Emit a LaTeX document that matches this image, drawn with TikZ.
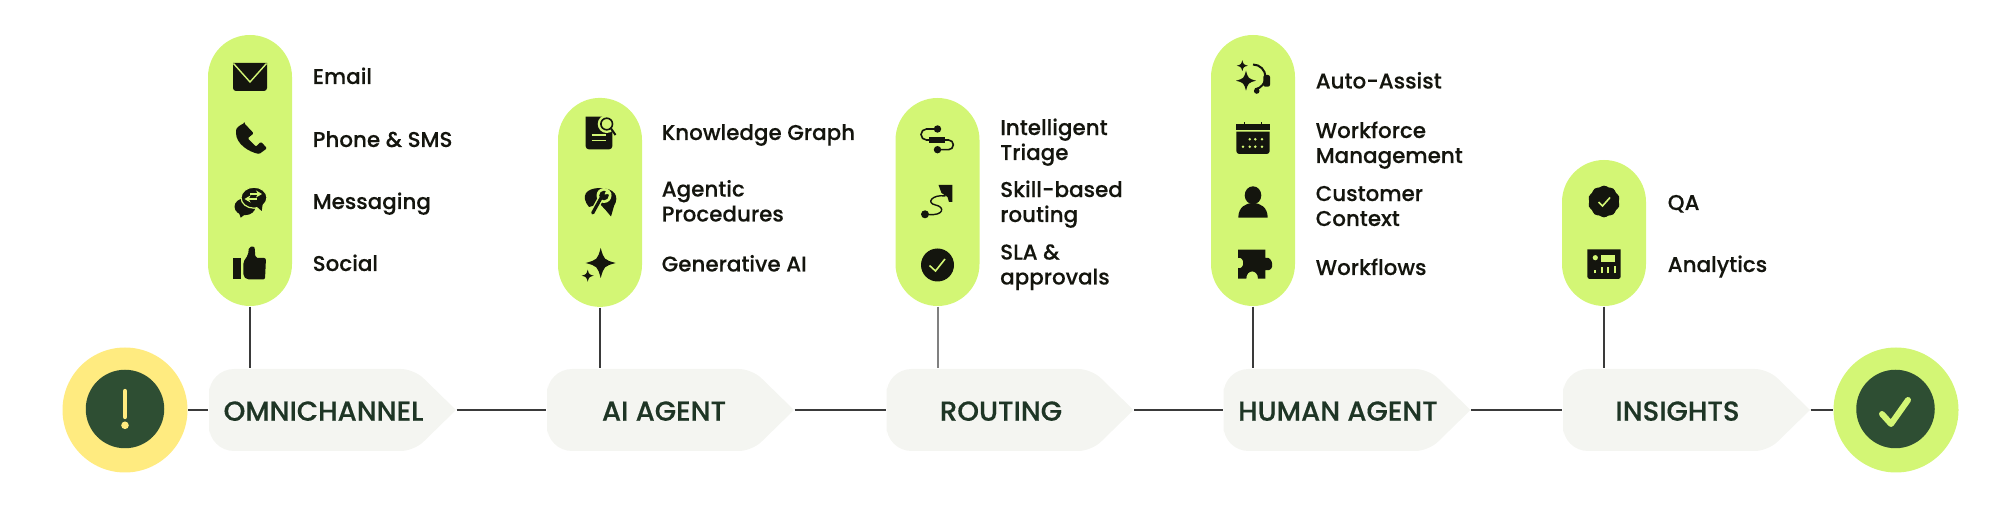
\documentclass[tikz,border=0pt]{standalone}
\usepackage{fontspec}
\setmainfont{Poppins}
\newfontfamily\itemfont{Poppins Medium}[FakeBold=.2]
\newfontfamily\stagefont{Poppins Medium}[FakeBold=.35]
\usepackage{xcolor}
\usetikzlibrary{positioning}
\usetikzlibrary{shapes.geometric}
\usetikzlibrary{arrows.meta}
\usetikzlibrary{calc}

\definecolor{pillgreen}{HTML}{D3F675}
\definecolor{sunyellow}{HTML}{FFEB80}
\definecolor{darkgreen}{HTML}{2E4E33}
\definecolor{stagegrey}{HTML}{F4F5F1}
\definecolor{stageink}{HTML}{1E3525}
\definecolor{iconink}{HTML}{14150E}
\definecolor{wireink}{HTML}{3A3A3A}

\tikzset{
  % small four pointed star, radius 1
  ic spark/.pic={
    \fill[iconink] (0,1) .. controls (.22,.22) .. (1,0) .. controls (.22,-.22) .. (0,-1)
      .. controls (-.22,-.22) .. (-1,0) .. controls (-.22,.22) .. (0,1) -- cycle;
  },
  ic mail/.pic={
    \fill[iconink, rounded corners=.03cm] (-.17,0) -- (-.17,-.14) -- (.17,-.14) -- (.17,0) [sharp corners] -- (.17,.14) -- (-.17,.14) -- cycle;
    \draw[pillgreen, line width=.014cm] (-.165,.135) -- (0,-.05) -- (.165,.135);
  },
  ic phone/.pic={
    \fill[iconink, rounded corners=.012cm] (-.067,.157) -- (.027,.057) -- (-.033,.007) -- (.05,-.077)
      -- (.10,-.027) -- (.16,-.093) -- (.083,-.15) .. controls (-.02,-.13) and (-.15,-.05) .. (-.15,.073)
      .. controls (-.15,.11) and (-.11,.14) .. (-.067,.157) -- cycle;
  },
  ic chat/.pic={
    \fill[iconink] (-.05,-.047) ellipse[x radius=.105, y radius=.085];
    \fill[iconink] (-.12,-.08) -- (-.093,-.157) -- (-.02,-.10) -- cycle;
    \fill[iconink, draw=pillgreen, line width=.012cm] (.04,.043) ellipse[x radius=.13, y radius=.105];
    \fill[iconink] (.06,-.04) -- (.117,-.09) -- (.13,0) -- cycle;
    \draw[pillgreen, line width=.012cm, -{Stealth[length=.06cm,width=.07cm]}] (0,.08) -- (.12,.08);
    \draw[pillgreen, line width=.012cm, -{Stealth[length=.06cm,width=.07cm]}] (.07,.03) -- (-.055,.03);
  },
  ic thumb/.pic={
    \fill[iconink] (-.167,.05) rectangle (-.093,-.16);
    \fill[iconink, rounded corners=.02cm] (-.067,.01) -- (-.02,.08) -- (-.01,.16) -- (.045,.167)
      -- (.055,.05) -- (.16,.05) -- (.15,-.165) -- (-.03,-.165) -- (-.067,-.13) -- cycle;
  },
  ic doc/.pic={
    \fill[iconink, rounded corners=.03cm] (-.143,0) -- (-.143,-.163) -- (.123,-.163) -- (.123,0) [sharp corners] -- (.123,.163) -- (-.143,.163) -- cycle;
    \fill[pillgreen] (.067,.09) circle[radius=.09];
    \fill[pillgreen] (.067,.09) rectangle (.16,.18);
    \draw[iconink, line width=.016cm] (.067,.09) circle[radius=.058];
    \draw[iconink, line width=.02cm] (.11,.045) -- (.155,-.02);
    \draw[pillgreen, line width=.016cm] (-.083,-.02) -- (.057,-.02);
    \draw[pillgreen, line width=.016cm] (-.083,-.075) -- (.057,-.075);
  },
  ic wrench/.pic={
    \fill[iconink] (-.11,-.05) .. controls (-.2,.06) and (-.14,.14) .. (0,.14)
      .. controls (.14,.14) and (.2,.06) .. (.14,-.04) -- (.11,-.145) -- (.06,-.085) -- (0,-.02) -- cycle;
    \draw[pillgreen, line width=.06cm, line cap=round] (-.073,-.11) -- (.015,.05);
    \fill[pillgreen] (.04,.065) circle[radius=.075];
    \draw[iconink, line width=.032cm, line cap=round] (-.073,-.11) -- (.01,.04);
    \fill[iconink] (.04,.065) circle[radius=.048];
    \fill[pillgreen] (.045,.075) -- (.07,.135) -- (.115,.085) -- cycle;
  },
  ic stars/.pic={
    \pic[scale=.15] at (.007,.02) {ic spark};
    \pic[scale=.06] at (-.123,-.107) {ic spark};
  },
  ic flow/.pic={
    \draw[iconink, line width=.016cm] (0,.11) -- (-.11,.11) arc[start angle=90, end angle=270, radius=.055] -- (-.06,0);
    \draw[iconink, line width=.016cm] (0,0) -- (.11,0) arc[start angle=90, end angle=-90, radius=.0485] -- (0,-.097);
    \fill[iconink] (0,.11) circle[radius=.037];
    \fill[iconink] (0,-.097) circle[radius=.037];
    \fill[iconink] (-.085,.033) rectangle (.075,-.033);
  },
  ic route/.pic={
    \fill[iconink] (-.125,-.123) circle[radius=.04];
    \draw[iconink, line width=.014cm] (-.09,-.125) .. controls (.06,-.14) and (.08,-.05) .. (-.02,-.03)
      .. controls (-.12,-.01) and (-.05,.08) .. (.08,.06);
    \fill[iconink] (.01,.17) -- (.148,.17) -- (.148,0) -- (.115,0) -- (.10,.05) -- (.04,.09) -- cycle;
  },
  ic tick/.pic={
    \fill[iconink] (0,0) circle[radius=.165];
    \draw[pillgreen, line width=.016cm] (-.08,-.005) -- (-.02,-.06) -- (.075,.06);
  },
  ic headset/.pic={
    \pic[scale=.1] at (-.07,-.037) {ic spark};
    \pic[scale=.055] at (-.107,.113) {ic spark};
    \draw[iconink, line width=.02cm] (.0,.125) arc[start angle=90, end angle=-80, radius=.125];
    \fill[iconink, rounded corners=.02cm] (.103,.02) rectangle (.17,-.097);
    \fill[iconink] (.037,-.14) circle[radius=.028];
  },
  ic calendar/.pic={
    \fill[iconink] (-.167,.147) rectangle (.167,.09);
    \fill[iconink] (-.09,.17) rectangle (-.08,.147);
    \fill[iconink] (.08,.17) rectangle (.09,.147);
    \fill[iconink, rounded corners=.03cm] (-.167,0) -- (-.167,-.15) -- (.167,-.15) -- (.167,0) [sharp corners] -- (.167,.073) -- (-.167,.073) -- cycle;
    \fill[pillgreen] (-.033,-.003) circle[radius=.014] (.023,-.003) circle[radius=.014] (.09,-.003) circle[radius=.014]
      (-.1,-.077) circle[radius=.014] (-.033,-.077) circle[radius=.014] (.023,-.077) circle[radius=.014] (.09,-.077) circle[radius=.014];
  },
  ic person/.pic={
    \fill[iconink] (0,.067) ellipse[x radius=.083, y radius=.09];
    \fill[iconink] (-.147,-.157) .. controls (-.147,-.05) and (-.07,-.01) .. (0,-.01)
      .. controls (.07,-.01) and (.147,-.05) .. (.147,-.157) -- cycle;
  },
  ic puzzle/.pic={
    \fill[iconink] (-.15,.143) -- (.123,.143) -- (.123,.06) .. controls (.20,.09) and (.23,-.09) .. (.123,-.06)
      -- (.123,-.147) -- (.05,-.147) .. controls (.05,-.05) and (-.067,-.05) .. (-.067,-.147)
      -- (-.15,-.147) -- (-.15,-.04) .. controls (-.08,-.06) and (-.08,.08) .. (-.15,.06) -- cycle;
  },
  ic badge/.pic={
    \node[star, star points=10, star point ratio=1.2, fill=iconink, rounded corners=.03cm, minimum size=.34cm, inner sep=0pt] (badgeshape) at (0,0) {};
    \draw[pillgreen, line width=.016cm] (-.055,-.005) -- (-.015,-.045) -- (.06,.04);
  },
  ic board/.pic={
    \fill[iconink, rounded corners=.025cm] (-.167,0) -- (-.167,-.15) -- (.167,-.15) -- (.167,0) [sharp corners] -- (.167,.147) -- (-.167,.147) -- cycle;
    \fill[pillgreen] (-.087,.063) circle[radius=.026];
    \fill[pillgreen] (-.027,.09) rectangle (.107,.023);
    \draw[pillgreen, line width=.02cm] (-.093,-.093) -- (-.093,-.06);
    \draw[pillgreen, line width=.02cm] (-.02,-.093) -- (-.02,-.027);
    \draw[pillgreen, line width=.02cm] (.04,-.093) -- (.04,-.027);
    \draw[pillgreen, line width=.02cm] (.107,-.093) -- (.107,-.017);
  }
}

\begin{document}
\begin{tikzpicture}[
  pill/.style={rectangle, fill=pillgreen, rounded corners=.42cm, minimum width=.84cm, inner sep=0pt},
  itemtext/.style={anchor=base west, align=left, inner sep=0pt, text=iconink, font=\itemfont\fontsize{6.1}{7.11}\selectfont},
  stagebox/.style={rectangle, minimum width=2.47cm, minimum height=.82cm, inner sep=0pt,
    text=stageink, font=\stagefont\fontsize{7.85}{9}\selectfont, text height=.215cm, text depth=0pt,
    execute at begin node={\hspace*{-.18cm}},
    path picture={
      \fill[stagegrey] (path picture bounding box.west) [rounded corners=.25cm] -- (path picture bounding box.north west)
        [rounded corners=.13cm] -- ($(path picture bounding box.north east)+(-.42,0)$) [sharp corners] -- (path picture bounding box.east)
        [rounded corners=.13cm] -- ($(path picture bounding box.south east)+(-.42,0)$)
        [rounded corners=.25cm] -- (path picture bounding box.south west) -- cycle;
    }},
  ring/.style={circle, minimum size=1.25cm, inner sep=0pt},
  core/.style={circle, fill=darkgreen, minimum size=.785cm, inner sep=0pt},
  wire/.style={draw=wireink, line width=.014cm}
]
\useasboundingbox (0,0) rectangle (20,5.08);

% End points
\node[ring, fill=sunyellow] (start) at (1.25,.98) {};
\node[core] (startcore) at (1.25,.99) {};
\draw[sunyellow, line width=.043cm, line cap=round] (1.25,1.17) -- (1.25,.91);
\fill[sunyellow] (1.25,.827) circle[radius=.038];
\node[ring, fill=pillgreen] (finish) at (18.96,.98) {};
\node[core] (finishcore) at (18.955,.99) {};
\draw[pillgreen, line width=.06cm, line cap=round, line join=round] (18.82,.94) -- (18.91,.84) -- (19.08,1.08);

% Stages
\node[stagebox] (omni) at (3.325,.98) {OMNICHANNEL};
\node[stagebox] (aiagent) at (6.705,.98) {\hspace*{.05cm}AI AGENT};
\node[stagebox] (routing) at (10.10,.98) {ROUTING};
\node[stagebox] (human) at (13.47,.98) {HUMAN AGENT};
\node[stagebox] (insights) at (16.865,.98) {INSIGHTS};

% Main line
\draw[wire] (start) -- (omni);
\draw[wire] (omni) -- (aiagent);
\draw[wire] (aiagent) -- (routing);
\draw[wire] (routing) -- (human);
\draw[wire] (human) -- (insights);
\draw[wire] (insights) -- (finish);

% Pills
\node[pill, minimum height=2.71cm] (pillomni) at (2.50,3.375) {};
\node[pill, minimum height=2.09cm] (pillai) at (6.00,3.056) {};
\node[pill, minimum height=2.08cm] (pillrouting) at (9.375,3.06) {};
\node[pill, minimum height=2.71cm] (pillhuman) at (12.53,3.375) {};
\node[pill, minimum height=1.46cm] (pillinsights) at (16.04,2.75) {};

% Stems
\draw[wire] (pillomni.south) -- (pillomni.south |- omni.north);
\draw[wire] (pillai.south) -- (pillai.south |- aiagent.north);
\draw[wire, line width=.02cm, draw=gray] (pillrouting.south) -- (pillrouting.south |- routing.north);
\draw[wire] (pillhuman.south) -- (pillhuman.south |- human.north);
\draw[wire] (pillinsights.south) -- (pillinsights.south |- insights.north);

% Icons
\pic at (2.50,4.31) {ic mail};
\pic at (2.51,3.69) {ic phone};
\pic at (2.50,3.06) {ic chat};
\pic at (2.50,2.45) {ic thumb};
\pic at (6.00,3.75) {ic doc};
\pic at (6.00,3.06) {ic wrench};
\pic at (6.00,2.43) {ic stars};
\pic at (9.375,3.68) {ic flow};
\pic at (9.375,3.06) {ic route};
\pic at (9.375,2.43) {ic tick};
\pic at (12.53,4.31) {ic headset};
\pic at (12.53,3.69) {ic calendar};
\pic at (12.53,3.06) {ic person};
\pic at (12.53,2.44) {ic puzzle};
\pic at (16.04,3.065) {ic badge};
\pic at (16.04,2.44) {ic board};

% Item labels
\node[itemtext] (email) at (3.12,4.24) {Email};
\node[itemtext] (phone) at (3.12,3.61) {Phone \& SMS};
\node[itemtext] (messaging) at (3.12,2.99) {Messaging};
\node[itemtext] (social) at (3.12,2.37) {Social};
\node[itemtext] (knowledge) at (6.61,3.68) {Knowledge Graph};
\node[itemtext] (procedures) at (6.61,2.865) {Agentic\\Procedures};
\node[itemtext] (generative) at (6.61,2.365) {Generative AI};
\node[itemtext] (triage) at (9.995,3.48) {Intelligent\\Triage};
\node[itemtext] (skill) at (9.995,2.86) {Skill-based\\routing};
\node[itemtext] (sla) at (9.995,2.235) {SLA \&\\approvals};
\node[itemtext] (assist) at (13.15,4.195) {Auto-Assist};
\node[itemtext] (workforce) at (13.15,3.45) {Workforce\\Management};
\node[itemtext] (context) at (13.15,2.82) {Customer\\Context};
\node[itemtext] (workflows) at (13.15,2.33) {Workflows};
\node[itemtext] (qa) at (16.67,2.98) {QA};
\node[itemtext] (analytics) at (16.67,2.36) {Analytics};
\end{tikzpicture}
\end{document}
